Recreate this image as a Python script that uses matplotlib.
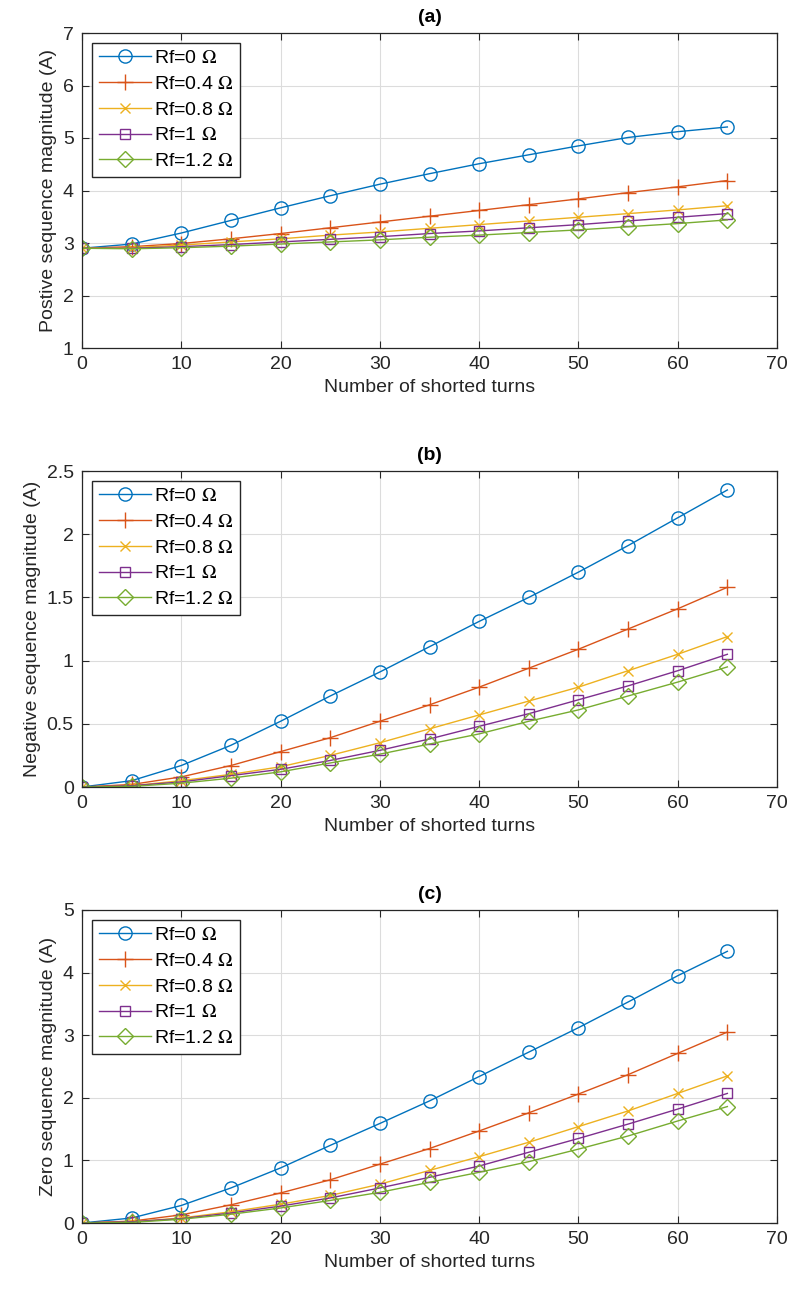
import matplotlib
matplotlib.use("Agg")
import matplotlib.pyplot as plt

plt.rcParams['font.family'] = ['Liberation Sans', 'DejaVu Sans']
plt.rcParams['mathtext.fontset'] = 'stix'

turns = [0, 5, 10, 15, 20, 25, 30, 35, 40, 45, 50, 55, 60, 65]
labels = ["Rf=0 $\\Omega$", "Rf=0.4 $\\Omega$", "Rf=0.8 $\\Omega$",
          "Rf=1 $\\Omega$", "Rf=1.2 $\\Omega$"]

# Positive sequence magnitude (A)
pos_rf0 = [2.90, 2.98, 3.19, 3.43, 3.67, 3.90, 4.12, 4.32, 4.51, 4.68, 4.85, 5.01, 5.12, 5.21]
pos_rf04 = [2.90, 2.93, 2.99, 3.08, 3.18, 3.29, 3.40, 3.51, 3.62, 3.73, 3.84, 3.96, 4.07, 4.19]
pos_rf08 = [2.90, 2.91, 2.96, 3.02, 3.08, 3.15, 3.21, 3.28, 3.35, 3.42, 3.49, 3.56, 3.63, 3.71]
pos_rf1 = [2.90, 2.90, 2.93, 2.97, 3.02, 3.07, 3.12, 3.18, 3.23, 3.29, 3.35, 3.42, 3.49, 3.56]
pos_rf12 = [2.90, 2.89, 2.91, 2.94, 2.98, 3.02, 3.06, 3.11, 3.15, 3.20, 3.25, 3.31, 3.37, 3.44]

# Negative sequence magnitude (A)
neg_rf0 = [0.0, 0.05, 0.17, 0.33, 0.52, 0.72, 0.91, 1.11, 1.31, 1.50, 1.70, 1.91, 2.13, 2.35]
neg_rf04 = [0.0, 0.02, 0.08, 0.17, 0.28, 0.39, 0.52, 0.65, 0.79, 0.94, 1.09, 1.25, 1.41, 1.58]
neg_rf08 = [0.0, 0.01, 0.05, 0.10, 0.16, 0.25, 0.35, 0.46, 0.57, 0.68, 0.79, 0.92, 1.05, 1.19]
neg_rf1 = [0.0, 0.01, 0.04, 0.09, 0.14, 0.21, 0.29, 0.38, 0.48, 0.58, 0.69, 0.80, 0.92, 1.05]
neg_rf12 = [0.0, 0.005, 0.03, 0.07, 0.12, 0.19, 0.26, 0.34, 0.42, 0.52, 0.61, 0.72, 0.83, 0.95]

# Zero sequence magnitude (A)
zero_rf0 = [0.0, 0.08, 0.28, 0.56, 0.88, 1.24, 1.59, 1.95, 2.34, 2.73, 3.12, 3.53, 3.95, 4.34]
zero_rf04 = [0.0, 0.03, 0.13, 0.29, 0.48, 0.69, 0.94, 1.19, 1.47, 1.76, 2.06, 2.37, 2.71, 3.05]
zero_rf08 = [0.0, 0.02, 0.08, 0.18, 0.30, 0.44, 0.62, 0.84, 1.06, 1.29, 1.54, 1.79, 2.07, 2.35]
zero_rf1 = [0.0, 0.02, 0.07, 0.16, 0.27, 0.40, 0.56, 0.73, 0.91, 1.13, 1.35, 1.58, 1.82, 2.07]
zero_rf12 = [0.0, 0.01, 0.06, 0.14, 0.24, 0.36, 0.49, 0.65, 0.81, 0.98, 1.18, 1.39, 1.63, 1.86]

colors = ['#0072BD', '#D95319', '#EDB120', '#7E2F8E', '#77AC30']
markers = ['o', '+', 'x', 's', 'D']
msizes = [9.5, 11, 7, 7.5, 8]

panels = [
    ("(a)", "Postive sequence magnitude (A)",
     [pos_rf0, pos_rf04, pos_rf08, pos_rf1, pos_rf12], (1, 7), [1, 2, 3, 4, 5, 6, 7],
     ['1', '2', '3', '4', '5', '6', '7']),
    ("(b)", "Negative sequence magnitude (A)",
     [neg_rf0, neg_rf04, neg_rf08, neg_rf1, neg_rf12], (0, 2.5), [0, 0.5, 1, 1.5, 2, 2.5],
     ['0', '0.5', '1', '1.5', '2', '2.5']),
    ("(c)", "Zero sequence magnitude (A)",
     [zero_rf0, zero_rf04, zero_rf08, zero_rf1, zero_rf12], (0, 5), [0, 1, 2, 3, 4, 5],
     ['0', '1', '2', '3', '4', '5']),
]

W, H = 793, 1293
fig = plt.figure(figsize=(W / 100, H / 100), dpi=100)

# axes boxes in pixels: left, top, right, bottom
boxes = [(82, 33, 777, 348), (82, 471, 777, 787), (82, 910, 777, 1223)]
xticks = [0, 10, 20, 30, 40, 50, 60, 70]

for (title, ylabel, series, ylim, yticks, yticklabels), (l, t, r, b) in zip(panels, boxes):
    ax = fig.add_axes([l / W, 1 - b / H, (r - l) / W, (b - t) / H])
    for ys, c, m, ms, lab in zip(series, colors, markers, msizes, labels):
        ax.plot(turns, ys, color=c, marker=m, markersize=ms, markerfacecolor='none',
                markeredgecolor=c, markeredgewidth=1.0, linewidth=1.0, label=lab)
    ax.set_xlim(0, 70)
    ax.set_ylim(*ylim)
    ax.set_xticks(xticks)
    ax.set_xticklabels([str(v) for v in xticks])
    ax.set_yticks(yticks)
    ax.set_yticklabels(yticklabels)
    ax.grid(True, color='#dcdcdc', linewidth=0.8)
    ax.set_axisbelow(True)
    ax.tick_params(direction='in', top=True, right=True, length=5, width=0.8,
                   colors='#262626', labelsize=14, pad=6)
    for sp in ax.spines.values():
        sp.set_color('#262626')
        sp.set_linewidth(0.9)
    ax.set_title(title, fontsize=14, fontweight='bold', pad=8)
    ax.set_xlabel("Number of shorted turns", fontsize=14, color='#262626')
    ax.set_ylabel(ylabel, fontsize=14, color='#262626')
    leg = ax.legend(loc='upper left', fontsize=14, frameon=True, fancybox=False,
                    edgecolor='#262626', borderaxespad=0.5, handlelength=2.7,
                    handletextpad=0.15, labelspacing=0.42, borderpad=0.35)
    leg.get_frame().set_linewidth(1.0)
    leg.get_frame().set_alpha(1.0)

fig.savefig("out.png", dpi=100)
